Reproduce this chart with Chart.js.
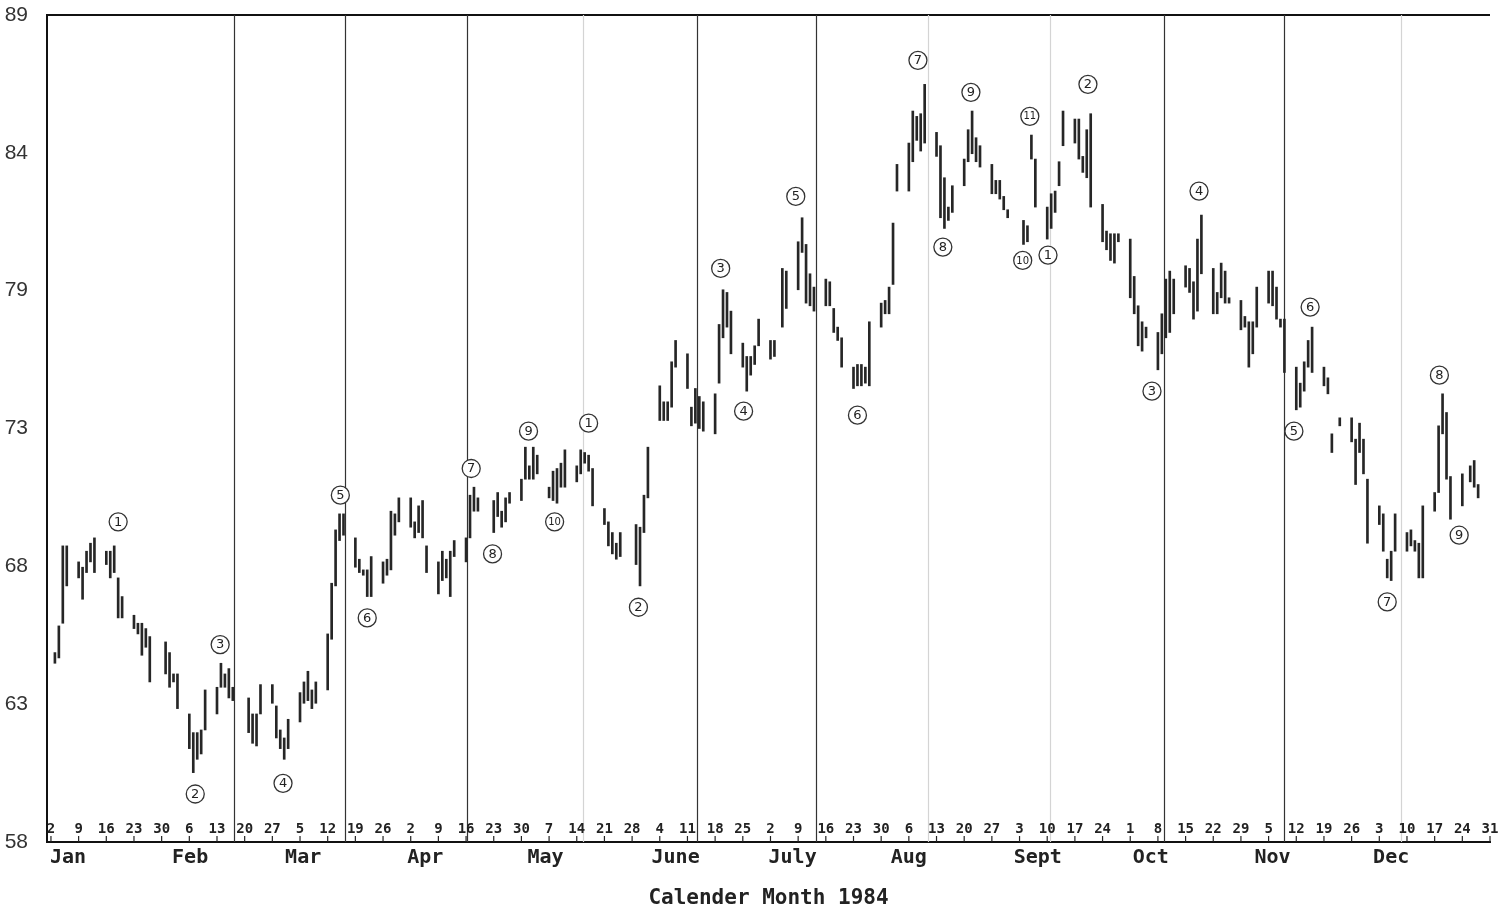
<!DOCTYPE html>
<html lang="en">
<head>
<meta charset="UTF-8" />
<title>Calender Month 1984</title>
<script src="https://cdn.jsdelivr.net/npm/chart.js"></script>
<style>
  html, body { margin: 0; padding: 0; background: #fff; }
  #wrap { width: 1512px; height: 914px; }
</style>
</head>
<body>
<div id="wrap"><canvas id="chart"></canvas></div>
<script>
// trading days as day of year (Jan 1 = 0), with daily high and low
const days = [
  2, 3, 4, 5,  8, 9, 10, 11, 12,  15, 16, 17, 18, 19,  22, 23, 24, 25, 26,  30, 31, 32, 33,
  36, 37, 38, 39, 40,  43, 44, 45, 46, 47,  51, 52, 53, 54,  57, 58, 59, 60, 61,
  64, 65, 66, 67, 68,  71, 72, 73, 74, 75,  78, 79, 80, 81, 82,  85, 86, 87, 88, 89,
  92, 93, 94, 95, 96,  99, 100, 101, 102, 103,  106, 107, 108, 109,  113, 114, 115, 116, 117,
  120, 121, 122, 123, 124,  127, 128, 129, 130, 131,  134, 135, 136, 137, 138,  141, 142, 143, 144, 145,
  149, 150, 151, 152,  155, 156, 157, 158, 159,  162, 163, 164, 165, 166,  169, 170, 171, 172, 173,
  176, 177, 178, 179, 180,  183, 184, 186, 187,  190, 191, 192, 193, 194,  197, 198, 199, 200, 201,
  204, 205, 206, 207, 208,  211, 212, 213, 214, 215,  218, 219, 220, 221, 222,  225, 226, 227, 228, 229,
  232, 233, 234, 235, 236,  239, 240, 241, 242, 243,  247, 248, 249, 250,  253, 254, 255, 256, 257,
  260, 261, 262, 263, 264,  267, 268, 269, 270, 271,  274, 275, 276, 277, 278,  281, 282, 283, 284, 285,
  288, 289, 290, 291, 292,  295, 296, 297, 298, 299,  302, 303, 304, 305, 306,  309, 310, 311, 312, 313,
  316, 317, 318, 319, 320,  323, 324, 325, 327,  330, 331, 332, 333, 334,  337, 338, 339, 340, 341,
  344, 345, 346, 347, 348,  351, 352, 353, 354, 355,  358, 360, 361, 362
];
const highs = [
  65.1, 66.1, 69.1, 69.1,  68.5, 68.3, 68.9, 69.2, 69.4,  68.9, 68.9, 69.1, 67.9, 67.2,  66.5, 66.2, 66.2, 66.0, 65.7,  65.5, 65.1, 64.3, 64.3,
  62.8, 62.1, 62.1, 62.2, 63.7,  63.8, 64.7, 64.3, 64.5, 63.8,  63.4, 62.8, 62.8, 63.9,  63.9, 63.1, 62.2, 61.9, 62.6,
  63.6, 64.0, 64.4, 63.7, 64.0,  65.8, 67.7, 69.7, 70.3, 70.3,  69.4, 68.6, 68.2, 68.2, 68.7,  68.5, 68.6, 70.4, 70.3, 70.9,
  70.9, 70.0, 70.6, 70.8, 69.1,  68.5, 68.9, 68.6, 68.9, 69.3,  69.4, 71.0, 71.3, 70.9,  70.8, 71.1, 70.4, 70.9, 71.1,
  71.6, 72.8, 72.1, 72.8, 72.5,  71.3, 71.9, 72.0, 72.2, 72.7,  72.1, 72.7, 72.6, 72.5, 72.0,  70.5, 70.0, 69.6, 69.2, 69.6,
  69.9, 69.8, 71.0, 72.8,  75.1, 74.5, 74.5, 76.0, 76.8,  76.3, 74.3, 75.0, 74.7, 74.5,  74.8, 77.4, 78.7, 78.6, 77.9,
  76.7, 76.2, 76.2, 76.6, 77.6,  76.8, 76.8, 79.5, 79.4,  80.5, 81.4, 80.4, 79.3, 78.8,  79.1, 79.0, 78.0, 77.3, 76.9,
  75.8, 75.9, 75.9, 75.8, 77.5,  78.2, 78.3, 78.8, 81.2, 83.4,  84.2, 85.4, 85.2, 85.3, 86.4,  84.6, 84.1, 82.9, 81.8, 82.6,
  83.6, 84.7, 85.4, 84.4, 84.1,  83.4, 82.8, 82.8, 82.2, 81.7,  81.3, 81.1, 84.5, 83.6,  81.8, 82.3, 82.4, 83.5, 85.4,
  85.1, 85.1, 83.7, 84.7, 85.3,  81.9, 80.9, 80.8, 80.8, 80.8,  80.6, 79.2, 78.1, 77.5, 77.3,  77.1, 77.8, 79.1, 79.4, 79.1,
  79.6, 79.5, 79.0, 80.6, 81.5,  79.5, 78.6, 79.7, 79.4, 78.4,  78.3, 77.7, 77.5, 77.5, 78.8,  79.4, 79.4, 78.8, 77.6, 77.6,
  75.8, 75.2, 76.0, 76.8, 77.3,  75.8, 75.4, 73.3, 73.9,  73.9, 73.1, 73.7, 73.1, 71.6,  70.6, 70.3, 68.6, 68.9, 70.3,
  69.6, 69.7, 69.3, 69.2, 70.6,  71.1, 73.6, 74.8, 74.1, 71.7,  71.8, 72.1, 72.3, 71.4
];
const lows = [
  64.7, 64.9, 66.2, 67.6,  67.9, 67.1, 68.1, 68.5, 68.1,  68.4, 67.9, 68.1, 66.4, 66.4,  66.0, 65.8, 65.0, 65.3, 64.0,  64.3, 63.8, 64.0, 63.0,
  61.5, 60.6, 61.1, 61.3, 62.2,  62.8, 63.8, 63.8, 63.4, 63.3,  62.1, 61.7, 61.6, 62.8,  63.2, 61.9, 61.5, 61.1, 61.5,
  62.5, 63.2, 63.3, 63.0, 63.2,  63.7, 65.6, 67.6, 69.3, 69.5,  68.3, 68.1, 68.0, 67.2, 67.2,  67.7, 68.0, 68.2, 69.5, 70.0,
  69.8, 69.4, 69.6, 69.4, 68.1,  67.3, 67.8, 67.9, 67.2, 68.7,  68.5, 69.4, 70.4, 70.4,  69.6, 70.2, 69.8, 70.0, 70.7,
  70.8, 71.6, 71.6, 71.6, 71.8,  70.9, 70.8, 70.7, 71.3, 71.3,  71.5, 71.8, 72.2, 71.9, 70.6,  69.9, 69.1, 68.8, 68.6, 68.7,
  68.4, 67.6, 69.6, 70.9,  73.8, 73.8, 73.8, 74.3, 75.8,  75.0, 73.6, 73.7, 73.5, 73.4,  73.3, 75.2, 76.9, 77.3, 76.3,
  75.8, 74.9, 75.5, 75.9, 76.6,  76.1, 76.2, 77.3, 78.0,  78.7, 80.1, 78.2, 78.1, 77.9,  78.1, 78.1, 77.1, 76.8, 75.8,
  75.0, 75.1, 75.1, 75.2, 75.1,  77.3, 77.8, 77.8, 78.9, 82.4,  82.4, 83.5, 84.3, 83.9, 84.2,  83.7, 81.4, 81.0, 81.3, 81.6,
  82.6, 83.5, 83.8, 83.5, 83.3,  82.3, 82.3, 82.1, 81.7, 81.4,  80.4, 80.5, 83.6, 81.8,  80.6, 81.0, 81.6, 82.6, 84.1,
  84.2, 83.6, 83.1, 82.9, 81.8,  80.5, 80.2, 79.8, 79.7, 80.5,  78.4, 77.8, 76.6, 76.4, 76.9,  75.7, 76.3, 76.9, 77.1, 77.8,
  78.8, 78.6, 77.6, 77.9, 79.3,  77.8, 77.8, 78.4, 78.2, 78.2,  77.2, 77.3, 75.8, 76.3, 77.3,  78.2, 78.1, 77.6, 77.3, 75.6,
  74.2, 74.3, 74.9, 75.8, 75.6,  75.1, 74.8, 72.6, 73.6,  73.0, 71.4, 72.6, 71.8, 69.2,  69.9, 68.9, 67.9, 67.8, 68.9,
  68.9, 69.1, 68.9, 67.9, 67.9,  70.4, 71.1, 73.3, 71.6, 70.1,  70.6, 71.5, 71.3, 70.9
];

// y axis ticks
const yTickValues = [58, 63.17, 68.33, 73.5, 78.67, 83.83, 89];
const yTickLabels = ['58', '63', '68', '73', '79', '84', '89'];

// weekly date labels (Mondays) along the bottom
const weekDays = [1, 8, 15, 22, 29, 36, 43, 50, 57, 64, 71, 78, 85, 92, 99, 106, 113, 120, 127, 134, 141, 148,
  155, 162, 169, 176, 183, 190, 197, 204, 211, 218, 225, 232, 239, 246, 253, 260, 267, 274, 281, 288, 295,
  302, 309, 316, 323, 330, 337, 344, 351, 358, 365];
const weekLabels = ['2', '9', '16', '23', '30', '6', '13', '20', '27', '5', '12', '19', '26', '2', '9', '16', '23', '30',
  '7', '14', '21', '28', '4', '11', '18', '25', '2', '9', '16', '23', '30', '6', '13', '20', '27', '3', '10', '17', '24',
  '1', '8', '15', '22', '29', '5', '12', '19', '26', '3', '10', '17', '24', '31'];

// month names and where they sit
const monthNames = ['Jan', 'Feb', 'Mar', 'Apr', 'May', 'June', 'July', 'Aug', 'Sept', 'Oct', 'Nov', 'Dec'];
const monthDays = [5.3, 36.2, 64.8, 95.7, 126.1, 159, 188.6, 218, 250.6, 279.2, 310, 340];

// vertical marker lines
const solidLineDays = [47.3, 75.4, 106.3, 164.5, 194.4, 282.5, 312.9];
const faintLineDays = [135.7, 222.8, 253.7, 342.5];

// circled wave counts
const waveDays = [18, 37.5, 43.8, 59.7, 74.2, 81, 107.3, 112.7, 121.8, 128.4, 137, 149.6, 170.4, 176.2, 189.4, 205,
  220.3, 226.6, 233.7, 248.6, 246.8, 253.2, 263.3, 279.5, 291.4, 315.4, 319.5, 339, 352.2, 357.2];
const waveValues = [70.0, 59.8, 65.4, 60.2, 71.0, 66.4, 72.0, 68.8, 73.4, 70.0, 73.7, 66.8, 79.5, 74.15, 82.2, 74.0,
  87.3, 80.3, 86.1, 85.2, 79.8, 80.0, 86.4, 74.9, 82.4, 73.4, 78.05, 67.0, 75.5, 69.5];
const waveLabels = ['1', '2', '3', '4', '5', '6', '7', '8', '9', '10', '1', '2', '3', '4', '5', '6',
  '7', '8', '9', '11', '10', '1', '2', '3', '4', '5', '6', '7', '8', '9'];

const MONO = '"DejaVu Sans Mono", monospace';

const overlay = {
  id: 'overlay',
  beforeDatasetsDraw(chart) {
    const { ctx, chartArea: a, scales: { x, y } } = chart;
    ctx.save();
    ctx.strokeStyle = '#111';
    ctx.lineWidth = 2;
    ctx.beginPath();
    ctx.moveTo(a.left, y.getPixelForValue(89));
    ctx.lineTo(a.right, y.getPixelForValue(89));
    ctx.stroke();

    ctx.lineWidth = 1.2;
    ctx.strokeStyle = '#333';
    solidLineDays.forEach(d => {
      const px = Math.round(x.getPixelForValue(d)) + 0.5;
      ctx.beginPath(); ctx.moveTo(px, a.top); ctx.lineTo(px, a.bottom); ctx.stroke();
    });
    ctx.strokeStyle = '#d4d4d4';
    faintLineDays.forEach(d => {
      const px = Math.round(x.getPixelForValue(d)) + 0.5;
      ctx.beginPath(); ctx.moveTo(px, a.top); ctx.lineTo(px, a.bottom); ctx.stroke();
    });
    ctx.restore();
  },
  afterDraw(chart) {
    const { ctx, chartArea: a, scales: { x, y } } = chart;
    ctx.save();
    // week labels with little stems down to the axis
    ctx.fillStyle = '#222';
    ctx.strokeStyle = '#222';
    ctx.lineWidth = 1.2;
    ctx.font = 'bold 14px ' + MONO;
    ctx.textAlign = 'center';
    ctx.textBaseline = 'middle';
    weekDays.forEach((d, i) => {
      const px = x.getPixelForValue(d);
      ctx.beginPath(); ctx.moveTo(px, a.bottom - 6); ctx.lineTo(px, a.bottom); ctx.stroke();
      ctx.fillText(weekLabels[i], px, a.bottom - 13);
    });
    // month names
    ctx.font = 'bold 20px ' + MONO;
    monthDays.forEach((d, i) => {
      ctx.fillText(monthNames[i], x.getPixelForValue(d), a.bottom + 16);
    });
    // circled wave labels
    waveDays.forEach((d, i) => {
      const px = x.getPixelForValue(d), py = y.getPixelForValue(waveValues[i]);
      ctx.beginPath();
      ctx.arc(px, py, 9, 0, Math.PI * 2);
      ctx.fillStyle = '#fff';
      ctx.fill();
      ctx.strokeStyle = '#333';
      ctx.lineWidth = 1.3;
      ctx.stroke();
      ctx.fillStyle = '#222';
      ctx.font = (waveLabels[i].length > 1 ? '10px ' : '13px ') + '"DejaVu Sans", sans-serif';
      ctx.fillText(waveLabels[i], px, py + 0.5);
    });
    ctx.restore();
  }
};

new Chart(document.getElementById('chart'), {
  type: 'bar',
  data: {
    datasets: [{
      data: days.map((d, i) => ({ x: d, y: [lows[i], highs[i]] })),
      backgroundColor: '#262626',
      borderWidth: 0,
      barThickness: 2
    }]
  },
  options: {
    responsive: true,
    maintainAspectRatio: false,
    animation: false,
    layout: { padding: { top: 15, right: 22, left: 0, bottom: 0 } },
    plugins: { legend: { display: false }, tooltip: { enabled: false } },
    scales: {
      x: {
        type: 'linear',
        min: 0,
        max: 365,
        offset: false,
        grid: { display: false },
        border: { color: '#111', width: 2 },
        ticks: { display: false },
        title: {
          display: true,
          text: 'Calender Month 1984',
          color: '#222',
          font: { family: MONO, size: 21, weight: 'bold' },
          padding: { top: 0, bottom: 3 }
        },
        afterFit(s) { s.height = 72; s.paddingLeft = 0; s.paddingRight = 0; }
      },
      y: {
        min: 58,
        max: 89,
        afterBuildTicks(s) { s.ticks = yTickValues.map(v => ({ value: v })); },
        grid: { display: false },
        border: { color: '#111', width: 2 },
        ticks: {
          color: '#333',
          padding: 11,
          font: { family: '"Liberation Sans", Arial, sans-serif', size: 21 },
          callback: (v, i) => yTickLabels[i]
        },
        afterFit(s) { s.width = 47; s.paddingTop = 0; s.paddingBottom = 0; }
      }
    }
  },
  plugins: [overlay]
});
</script>
</body>
</html>
